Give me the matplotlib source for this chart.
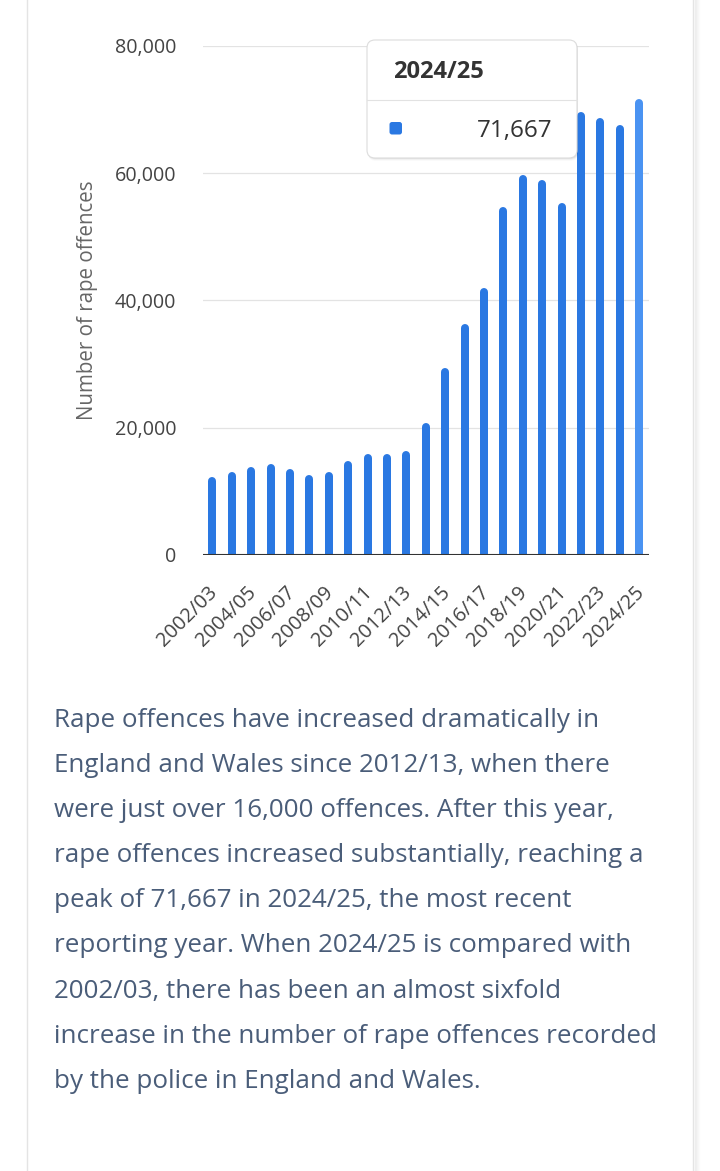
import matplotlib
matplotlib.use("Agg")
import matplotlib.pyplot as plt
from matplotlib.patches import FancyBboxPatch
from matplotlib.transforms import ScaledTranslation
from matplotlib.ticker import FuncFormatter, FixedLocator

plt.rcParams['font.family'] = ['Open Sans', 'DejaVu Sans']

# ---- data ----
years = ['2002/03', '2003/04', '2004/05', '2005/06', '2006/07', '2007/08',
         '2008/09', '2009/10', '2010/11', '2011/12', '2012/13', '2013/14',
         '2014/15', '2015/16', '2016/17', '2017/18', '2018/19', '2019/20',
         '2020/21', '2021/22', '2022/23', '2023/24', '2024/25']
offences = [12200, 13000, 13800, 14300, 13500, 12500, 13000, 14800, 15900,
            15900, 16300, 20700, 29400, 36300, 42000, 54700, 59700, 58900,
            55400, 69700, 68700, 67600, 71667]
y_ticks = [0, 20000, 40000, 60000, 80000]
y_label = "Number of rape offences"
tooltip_year = '2024/25'
tooltip_value = '71,667'
paragraph = [
    "Rape offences have increased dramatically in",
    "England and Wales since 2012/13, when there",
    "were just over 16,000 offences. After this year,",
    "rape offences increased substantially, reaching a",
    "peak of 71,667 in 2024/25, the most recent",
    "reporting year. When 2024/25 is compared with",
    "2002/03, there has been an almost sixfold",
    "increase in the number of rape offences recorded",
    "by the police in England and Wales.",
]

W, H, DPI = 720, 1171, 100
fig = plt.figure(figsize=(W / DPI, H / DPI), dpi=DPI)
fig.patch.set_facecolor('white')

# background overlay (pixel coordinates)
bg = fig.add_axes([0, 0, 1, 1], zorder=0)
bg.set_xlim(0, W)
bg.set_ylim(H, 0)
bg.axis('off')
# card borders
bg.plot([27, 27], [0, H], color='#e4e4e4', lw=1.0)
bg.plot([693, 693], [0, H], color='#e4e4e4', lw=1.0)
for i, a in enumerate([0.06, 0.045, 0.03, 0.02, 0.01]):
    bg.plot([694.5 + i, 694.5 + i], [0, H], color='black', alpha=a, lw=1.0)

# ---- chart ----
left, right, top, bottom = 202.7, 649.0, 46.0, 555.0
ax = fig.add_axes([left / W, 1 - bottom / H, (right - left) / W, (bottom - top) / H], zorder=1)
ax.set_facecolor('none')
ax.set_xlim(-0.5, len(years) - 0.5)
ax.set_ylim(0, 80000)

xs = list(range(len(years)))
colors = ['#2a78e2'] * (len(years) - 1) + ['#4a93f2']
bar_px = 8.0
shift = ScaledTranslation(0, -(bar_px / 2) / DPI, fig.dpi_scale_trans)
ax.vlines(xs, 0, offences, colors=colors, linewidth=bar_px * 72 / DPI,
          capstyle='round', transform=ax.transData + shift, zorder=2)

for y in y_ticks[1:]:
    ax.axhline(y, color='#e3e3e3', lw=0.9, zorder=1)
ax.axhline(0, color='#333333', lw=1.5, zorder=3)

for s in ax.spines.values():
    s.set_visible(False)
ax.yaxis.set_major_locator(FixedLocator(y_ticks))
ax.yaxis.set_major_formatter(FuncFormatter(lambda v, p: f"{int(v):,}"))
ax.tick_params(axis='y', length=0, pad=19, labelsize=14.2, labelcolor='#444444')
ax.set_xticks(xs[::2])
ax.set_xticklabels(years[::2], rotation=45, ha='right', va='center',
                   rotation_mode='anchor')
ax.tick_params(axis='x', length=0, pad=25, labelsize=14.4, labelcolor='#444444')
label_shift = ScaledTranslation(2 / DPI, 0, fig.dpi_scale_trans)
for lbl in ax.get_xticklabels():
    lbl.set_transform(lbl.get_transform() + label_shift)

fig.text(88 / W, 1 - 300 / H, y_label, rotation=90, ha='center', va='center',
         fontsize=14.8, color='#666666')

# ---- overlay for tooltip and paragraph ----
ov = fig.add_axes([0, 0, 1, 1], zorder=5)
ov.set_xlim(0, W)
ov.set_ylim(H, 0)
ov.axis('off')

# tooltip shadow
for i, a in enumerate([0.05, 0.035, 0.02]):
    ov.add_patch(FancyBboxPatch((367 + 1, 40 + 1 + i), 210, 118,
                                boxstyle="round,pad=0,rounding_size=8",
                                fc='black', ec='none', alpha=a, zorder=1))
ov.add_patch(FancyBboxPatch((367, 40), 210, 118,
                            boxstyle="round,pad=0,rounding_size=8",
                            fc='white', ec='#dcdcdc', lw=0.8, zorder=2))
ov.plot([367, 577], [99.5, 99.5], color='#e2e2e2', lw=0.8, zorder=3)
ov.text(393, 78, tooltip_year, fontsize=17, fontweight='bold', color='#333333',
        ha='left', va='baseline', zorder=4)
ov.add_patch(FancyBboxPatch((389.5, 122), 12.5, 12.5,
                            boxstyle="round,pad=0,rounding_size=2.5",
                            fc='#2a78e2', ec='none', zorder=4))
ov.text(553, 137, tooltip_value, fontsize=17.5, color='#333333',
        ha='right', va='baseline', zorder=4)

# paragraph
base0, step = 727, 45.1
for i, line in enumerate(paragraph):
    ov.text(54, base0 + i * step, line, fontsize=18.7, color='#4a5d79',
            ha='left', va='baseline')

fig.savefig('out.png', dpi=DPI, facecolor='white')
